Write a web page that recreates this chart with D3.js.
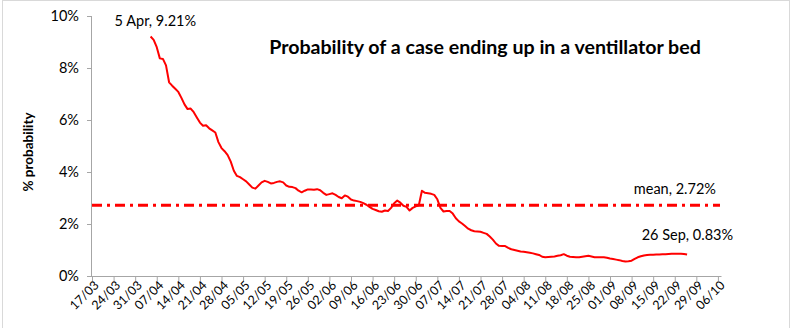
<!DOCTYPE html>
<html>
<head>
<meta charset="utf-8">
<script src="https://cdn.jsdelivr.net/npm/d3@7"></script>
<style>
  html, body { margin: 0; padding: 0; background: #fff; }
  svg { display: block; font-family: Lato, "Open Sans", sans-serif; }
</style>
</head>
<body>
<svg id="chart" width="792" height="328"></svg>
<script>
// Daily probability (%) that a case ends up in a ventilator bed, 5 Apr – 26 Sep 2020
const firstDay = "2020-04-05";
const probability = [
  9.21, 9.08, 8.80, 8.37, 8.35, 8.10, 7.45, 7.32, 7.20, 7.08,
  6.85, 6.60, 6.42, 6.44, 6.30, 6.10, 5.90, 5.78, 5.80, 5.68,
  5.60, 5.52, 5.15, 4.92, 4.80, 4.65, 4.40, 4.05, 3.85, 3.80,
  3.72, 3.64, 3.52, 3.40, 3.36, 3.48, 3.60, 3.66, 3.62, 3.56,
  3.58, 3.62, 3.64, 3.60, 3.48, 3.43, 3.42, 3.38, 3.28, 3.22,
  3.28, 3.33, 3.33, 3.32, 3.34, 3.30, 3.20, 3.12, 3.15, 3.18,
  3.12, 3.04, 2.99, 3.10, 3.05, 2.94, 2.90, 2.88, 2.85, 2.80,
  2.74, 2.66, 2.58, 2.54, 2.49, 2.47, 2.52, 2.50, 2.62, 2.80,
  2.90, 2.82, 2.70, 2.66, 2.52, 2.62, 2.68, 2.72, 3.28, 3.20,
  3.18, 3.16, 3.12, 2.95, 2.62, 2.48, 2.50, 2.50, 2.40, 2.22,
  2.10, 2.02, 1.92, 1.82, 1.76, 1.72, 1.71, 1.70, 1.66, 1.62,
  1.52, 1.40, 1.25, 1.16, 1.15, 1.15, 1.08, 1.03, 1.00, 0.97,
  0.94, 0.93, 0.91, 0.89, 0.87, 0.84, 0.81, 0.74, 0.72, 0.73,
  0.74, 0.75, 0.78, 0.80, 0.84, 0.78, 0.74, 0.73, 0.72, 0.72,
  0.74, 0.76, 0.78, 0.75, 0.72, 0.72, 0.72, 0.72, 0.70, 0.67,
  0.65, 0.63, 0.61, 0.58, 0.56, 0.57, 0.59, 0.66, 0.72, 0.76,
  0.79, 0.81, 0.82, 0.82, 0.83, 0.83, 0.84, 0.84, 0.85, 0.86,
  0.86, 0.86, 0.86, 0.85, 0.83
];
const meanValue = 2.72;

const xTickLabels = ["17/03","24/03","31/03","07/04","14/04","21/04","28/04","05/05","12/05","19/05",
  "26/05","02/06","09/06","16/06","23/06","30/06","07/07","14/07","21/07","28/07",
  "04/08","11/08","18/08","25/08","01/09","08/09","15/09","22/09","29/09","06/10"];
const yTicks = [0, 2, 4, 6, 8, 10];

const titleText = "Probability of a case ending up in a ventillator bed";
const yAxisTitle = "% probability";
const startLabel = "5 Apr, 9.21%";
const endLabel = "26 Sep, 0.83%";
const meanLabel = "mean, 2.72%";

const parseDay = d3.utcParse("%Y-%m-%d");
const start = parseDay(firstDay);
const series = probability.map((v, i) => ({ date: d3.utcDay.offset(start, i), value: v }));
const tickDates = xTickLabels.map(s => { const [dd, mm] = s.split("/"); return parseDay(`2020-${mm}-${dd}`); });

const svg = d3.select("#chart");
const red = "#ff0000";
const axisGrey = "#a6a6a6";

// outer frame
svg.append("rect").attr("x", 2.5).attr("y", 0.5).attr("width", 787).attr("height", 340)
  .attr("fill", "none").attr("stroke", "#d9d9d9");

const x = d3.scaleUtc()
  .domain([tickDates[0], d3.utcDay.offset(tickDates[tickDates.length - 1], 1)])
  .range([92, 721]);
const y = d3.scaleLinear().domain([0, 10]).range([276, 16]);

// y axis
const yAxis = svg.append("g").attr("transform", "translate(92,0)")
  .call(d3.axisLeft(y).tickValues(yTicks).tickFormat(d => d + "%").tickSize(5).tickPadding(8));
yAxis.select(".domain").attr("stroke", axisGrey).attr("d", `M-0.5,${y(10)}V${y(0)}`);
yAxis.selectAll(".tick line").attr("stroke", axisGrey);
yAxis.selectAll(".tick text").attr("font-family", "Lato, sans-serif").attr("font-size", 14.5).attr("fill", "#000");

// x axis
const xAxis = svg.append("g").attr("transform", "translate(0,276)")
  .call(d3.axisBottom(x).tickValues(tickDates).tickFormat((d, i) => xTickLabels[i]).tickSize(5).tickSizeOuter(0));
xAxis.select(".domain").attr("stroke", axisGrey);
xAxis.selectAll(".tick line").attr("stroke", axisGrey);
xAxis.selectAll(".tick text")
  .attr("font-family", "Lato, sans-serif").attr("font-size", 12.5).attr("fill", "#000")
  .attr("text-anchor", "end")
  .attr("transform", "translate(4,7) rotate(-45)")
  .attr("dy", "0.35em").attr("y", 0);

// mean line
svg.append("line")
  .attr("x1", x(tickDates[0])).attr("x2", 720)
  .attr("y1", y(meanValue)).attr("y2", y(meanValue))
  .attr("stroke", red).attr("stroke-width", 3)
  .attr("stroke-dasharray", "10,5,3,5");

// probability curve
svg.append("path").datum(series)
  .attr("fill", "none").attr("stroke", red).attr("stroke-width", 2).attr("stroke-linejoin", "round")
  .attr("d", d3.line().x(d => x(d.date)).y(d => y(d.value)));

// labels
svg.append("text").attr("x", 485).attr("y", 54).attr("text-anchor", "middle")
  .attr("font-weight", "bold").attr("font-size", 19.6).text(titleText);

svg.append("text").attr("transform", "translate(33,152) rotate(-90)").attr("text-anchor", "middle")
  .attr("font-weight", "bold").attr("font-size", 13.5).text(yAxisTitle);

const first = series[0], last = series[series.length - 1];
svg.append("text").attr("x", x(first.date) - 36).attr("y", y(first.value) - 11)
  .attr("font-size", 14.5).text(startLabel);
svg.append("text").attr("x", x(last.date) + 46).attr("y", y(last.value) - 14).attr("text-anchor", "end")
  .attr("font-size", 14.5).text(endLabel);
svg.append("text").attr("x", 716).attr("y", y(meanValue) - 11).attr("text-anchor", "end")
  .attr("font-size", 14.5).text(meanLabel);
</script>
</body>
</html>
